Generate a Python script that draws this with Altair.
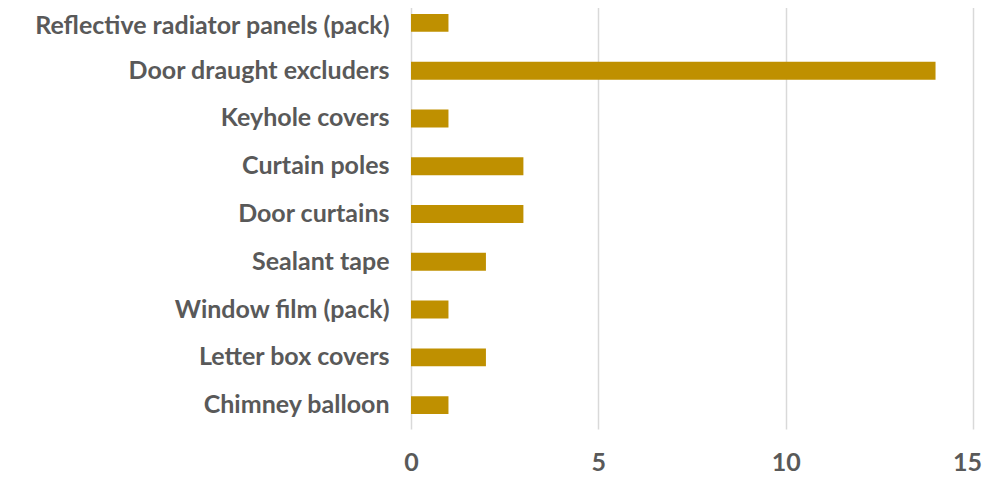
import altair as alt
import pandas as pd

categories = [
    "Reflective radiator panels (pack)",
    "Door draught excluders",
    "Keyhole covers",
    "Curtain poles",
    "Door curtains",
    "Sealant tape",
    "Window film (pack)",
    "Letter box covers",
    "Chimney balloon",
]
values = [1, 14, 1, 3, 3, 2, 1, 2, 1]
x_ticks = [0, 5, 10, 15]

df = pd.DataFrame({"item": categories, "count": values})

chart = (
    alt.Chart(df)
    .mark_bar(color="#BF9000")
    .encode(
        x=alt.X(
            "count:Q",
            scale=alt.Scale(domain=[0, 15], nice=False),
            axis=alt.Axis(
                values=x_ticks,
                title=None,
                domain=False,
                ticks=False,
                grid=True,
                gridColor="#D9D9D9",
                gridWidth=1.5,
                labelFont="Lato",
                labelFontWeight="bold",
                labelFontSize=25,
                labelColor="#595959",
                labelPadding=21,
                labelFlush=False,
                labelOffset=alt.expr("datum.value == 15 ? -6 : 0"),
            ),
        ),
        y=alt.Y(
            "item:N",
            sort=categories,
            scale=alt.Scale(paddingInner=0.625, paddingOuter=0.3125),
            axis=alt.Axis(
                title=None,
                domain=False,
                ticks=False,
                labelFont="Lato",
                labelFontWeight="bold",
                labelFontSize=25,
                labelColor="#595959",
                labelPadding=22,
                labelLimit=500,
                labelOffset=alt.expr("datum.index == 0 ? 3 : 0"),
            ),
        ),
    )
    .properties(
        width=562,
        height=430,
        autosize=alt.AutoSizeParams(type="none"),
        padding={"left": 403, "top": -9, "right": 9, "bottom": 48},
    )
    .configure_view(stroke=None)
)

chart.save("out.html", embed_options={"renderer": "svg", "actions": False})
